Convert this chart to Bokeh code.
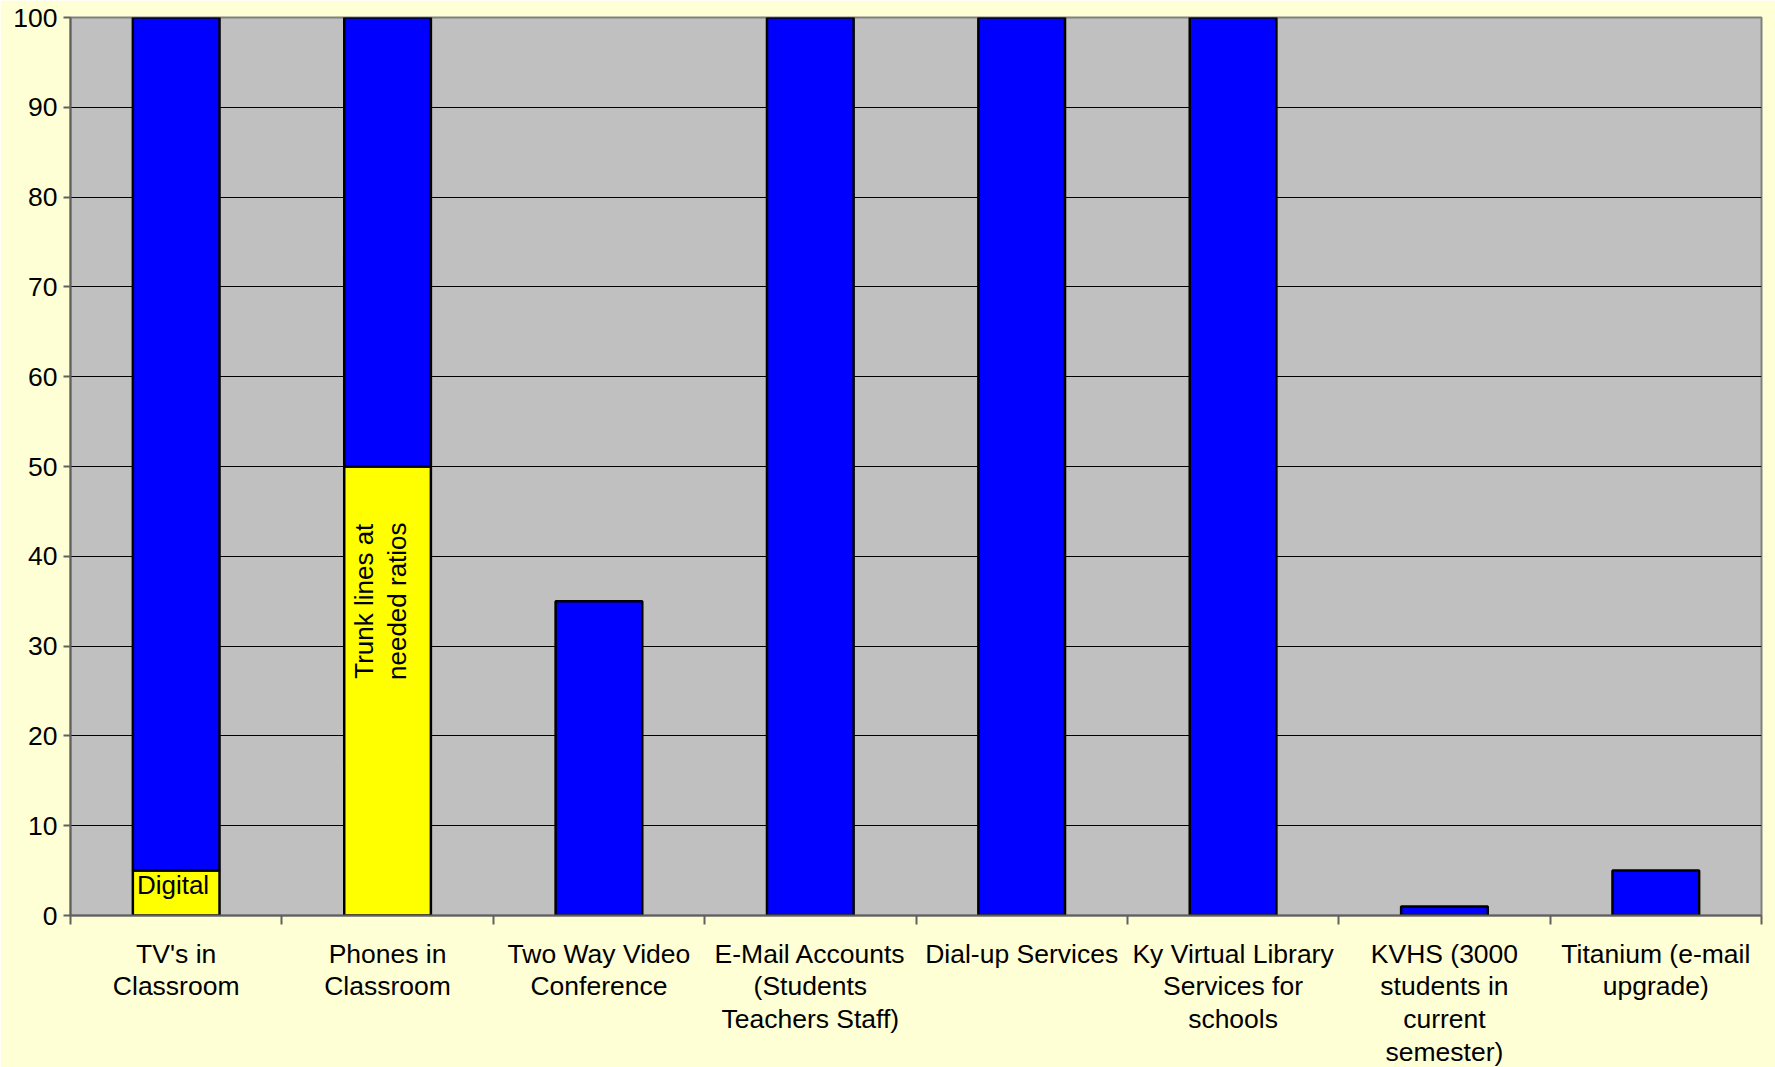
import math
from bokeh.plotting import figure
from bokeh.models import FixedTicker, Range1d, ColumnDataSource
from bokeh.embed import file_html
from bokeh.resources import INLINE
from bokeh.core.properties import value

categories = [
    "TV's in\nClassroom",
    "Phones in\nClassroom",
    "Two Way Video\nConference",
    "E-Mail Accounts\n(Students\nTeachers Staff)",
    "Dial-up Services",
    "Ky Virtual Library\nServices for\nschools",
    "KVHS (3000\nstudents in\ncurrent\nsemester)",
    "Titanium (e-mail\nupgrade)",
]
yellow = [5, 50, 0, 0, 0, 0, 0, 0]
blue = [95, 50, 35, 100, 100, 100, 1, 5]
y_ticks = [0, 10, 20, 30, 40, 50, 60, 70, 80, 90, 100]
seg_labels = ["Digital", "Trunk lines at\nneeded ratios"]

FONT = "Liberation Sans"
n = len(categories)
xc = [i + 0.5 for i in range(n)]
tops = [a + b for a, b in zip(yellow, blue)]

p = figure(frame_width=1691, frame_height=898, x_range=Range1d(0, n), y_range=Range1d(0, 100),
           output_backend="svg", toolbar_location=None,
           min_border_left=70, min_border_right=14, min_border_top=17, min_border_bottom=152)
p.background_fill_color = "#C0C0C0"
p.border_fill_color = "#FFFFD5"
p.outline_line_color = "#808080"
p.outline_line_width = 2

src = ColumnDataSource(dict(x=xc, yellow=yellow, blue=blue, tops=tops))
p.vbar(x="x", bottom=0, top="yellow", width=0.41, source=src,
       fill_color="#FFFF00", line_color="black", line_width=2.5)
p.vbar(x="x", bottom="yellow", top="tops", width=0.41, source=src,
       fill_color="#0000FF", line_color="black", line_width=2.5)

# segment labels
p.text(x=[xc[0] - 0.015], y=[yellow[0] * 0.68], text=[seg_labels[0]], text_align="center",
       text_baseline="middle", text_font=value(FONT), text_font_size="26px", text_color="black")
p.text(x=[xc[1] - 0.035], y=[yellow[1] * 0.7], text=[seg_labels[1]], angle=math.pi / 2,
       text_align="center", text_baseline="middle", text_font=value(FONT),
       text_font_size="26px", text_color="black", text_line_height=1.1)

p.xgrid.visible = False
p.ygrid.grid_line_color = "black"
p.ygrid.grid_line_width = 1
p.ygrid.ticker = FixedTicker(ticks=y_ticks)

xa = p.xaxis[0]
xa.ticker = FixedTicker(ticks=xc, minor_ticks=list(range(n + 1)))
xa.major_label_overrides = {x: c for x, c in zip(xc, categories)}
xa.major_tick_line_color = None
xa.minor_tick_out = 9
xa.minor_tick_in = 0
xa.minor_tick_line_color = "#606060"
xa.minor_tick_line_width = 2
xa.axis_line_color = "#606060"
xa.axis_line_width = 2
xa.major_label_text_font = FONT
xa.major_label_text_font_size = "26.5px"
xa.major_label_text_color = "black"
xa.major_label_text_line_height = 1.09
xa.major_label_standoff = 14

ya = p.yaxis[0]
ya.ticker = FixedTicker(ticks=y_ticks)
ya.major_tick_out = 7
ya.major_tick_in = 0
ya.major_tick_line_color = "#606060"
ya.major_tick_line_width = 2
ya.minor_tick_line_color = None
ya.axis_line_color = "#606060"
ya.axis_line_width = 2
ya.major_label_text_font = FONT
ya.major_label_text_font_size = "26.5px"
ya.major_label_text_color = "black"
ya.major_label_standoff = 6

open("out.html", "w").write(file_html(p, INLINE))
